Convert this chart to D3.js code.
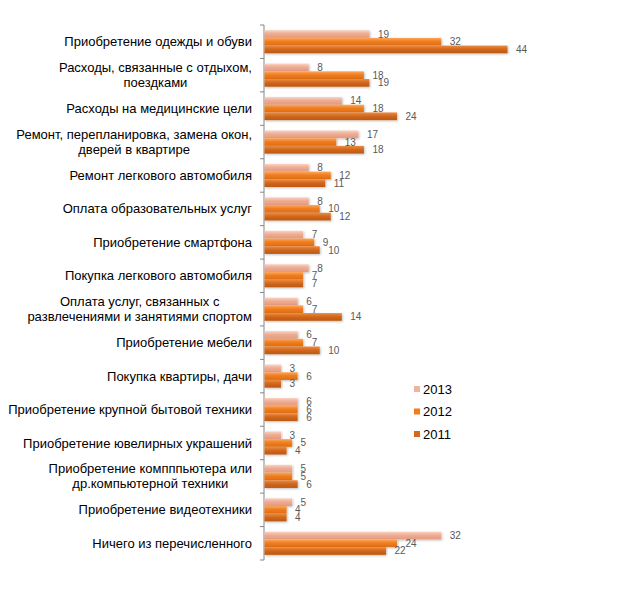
<!DOCTYPE html>
<html>
<head>
<meta charset="utf-8">
<script src="https://cdn.jsdelivr.net/npm/d3@7"></script>
<style>
  body { margin: 0; background: #fff; }
  svg { font-family: Arial, "Liberation Sans", sans-serif; }
</style>
</head>
<body>
<div id="chart"></div>
<script>
var categories = [
  "Приобретение одежды и обуви",
  "Расходы, связанные с отдыхом,\nпоездками",
  "Расходы на медицинские цели",
  "Ремонт, перепланировка, замена окон,\nдверей в квартире",
  "Ремонт легкового автомобиля",
  "Оплата образовательных услуг",
  "Приобретение смартфона",
  "Покупка легкового автомобиля",
  "Оплата услуг, связанных с\nразвлечениями и занятиями спортом",
  "Приобретение мебели",
  "Покупка квартиры, дачи",
  "Приобретение крупной бытовой техники",
  "Приобретение ювелирных украшений",
  "Приобретение компппьютера или\nдр.компьютерной техники",
  "Приобретение видеотехники",
  "Ничего из перечисленного"
]
var years = ["2013", "2012", "2011"]
var values2013 = [19, 8, 14, 17, 8, 8, 7, 8, 6, 6, 3, 6, 3, 5, 5, 32]
var values2012 = [32, 18, 18, 13, 12, 10, 9, 7, 7, 7, 6, 6, 5, 5, 4, 24]
var values2011 = [44, 19, 24, 18, 11, 12, 10, 7, 14, 10, 3, 6, 4, 6, 4, 22]

var series = [values2013, values2012, values2011]
var grads = [
  ["#fad3c2", "#eeac92", "#e49a80"],
  ["#fba85e", "#f07d1f", "#df6d13"],
  ["#e98d45", "#d4681c", "#b95812"]
]
var legendColors = ["#efb49c", "#f07d1f", "#d4681c"]

var width = 640, height = 604
var svg = d3.select("#chart").append("svg")
  .attr("width", width)
  .attr("height", height)

var defs = svg.append("defs")
grads.forEach(function (g, i) {
  var lg = defs.append("linearGradient")
    .attr("id", "g" + i)
    .attr("x1", 0).attr("y1", 0).attr("x2", 0).attr("y2", 1)
  lg.append("stop").attr("offset", "0%").attr("stop-color", g[0])
  lg.append("stop").attr("offset", "45%").attr("stop-color", g[1])
  lg.append("stop").attr("offset", "100%").attr("stop-color", g[2])
})
defs.append("filter").attr("id", "shadow")
  .attr("x", "-5%").attr("y", "-20%").attr("width", "115%").attr("height", "160%")
  .append("feDropShadow")
  .attr("dx", 1).attr("dy", 1).attr("stdDeviation", 0.8)
  .attr("flood-color", "#000").attr("flood-opacity", 0.25)

var x = d3.scaleLinear().domain([0, 44]).range([264, 507])
var y = d3.scaleBand().domain(d3.range(categories.length)).range([25, 560]).paddingInner(0)
var barH = 7.7
var groupH = barH * 3
var off = (y.bandwidth() - groupH) / 2

// axis line + ticks
var axis = svg.append("g")
axis.append("line")
  .attr("x1", 264).attr("x2", 264)
  .attr("y1", y.range()[0]).attr("y2", y.range()[1])
  .attr("stroke", "#868686")
var tickYs = d3.range(categories.length + 1).map(function (i) { return y.range()[0] + i * y.step() })
axis.selectAll(".tick").data(tickYs).enter().append("line")
  .attr("x1", 260).attr("x2", 264)
  .attr("y1", function (d) { return d }).attr("y2", function (d) { return d })
  .attr("stroke", "#868686")

// bars
series.forEach(function (vals, s) {
  var g = svg.append("g")
  g.selectAll("rect").data(vals).enter().append("rect")
    .attr("x", x(0) + 0.5)
    .attr("y", function (d, i) { return y(i) + off + s * barH })
    .attr("width", function (d) { return x(d) - x(0) })
    .attr("height", barH)
    .attr("fill", "url(#g" + s + ")")
    .attr("filter", "url(#shadow)")
})

// value labels
series.forEach(function (vals, s) {
  svg.append("g").selectAll("text").data(vals).enter().append("text")
    .attr("x", function (d) { return x(d) + 9 })
    .attr("y", function (d, i) { return y(i) + off + s * barH + barH / 2 })
    .attr("dy", "0.35em")
    .attr("font-size", "10px")
    .attr("fill", "#595959")
    .text(function (d) { return d })
})

// category labels
var labelRight = 252
var lineH = 15
categories.forEach(function (c, i) {
  var lines = c.split("\n")
  var t = svg.append("text")
    .attr("font-size", "13px")
    .attr("fill", "#000")
    .attr("text-anchor", "middle")
  var cy = y(i) + y.bandwidth() / 2
  lines.forEach(function (l, k) {
    t.append("tspan")
      .attr("y", cy + (k - (lines.length - 1) / 2) * lineH)
      .attr("dy", "0.35em")
      .text(l)
  })
  var w = 0
  t.selectAll("tspan").each(function () { w = Math.max(w, this.getComputedTextLength()) })
  t.selectAll("tspan").attr("x", labelRight - w / 2)
})

// legend
var legend = svg.append("g")
years.forEach(function (yr, i) {
  var ly = 389 + i * 22.5
  legend.append("rect")
    .attr("x", 414).attr("y", ly - 3)
    .attr("width", 6).attr("height", 6)
    .attr("fill", legendColors[i])
  legend.append("text")
    .attr("x", 423).attr("y", ly)
    .attr("dy", "0.35em")
    .attr("font-size", "13px")
    .attr("fill", "#000")
    .text(yr)
})
</script>
</body>
</html>
